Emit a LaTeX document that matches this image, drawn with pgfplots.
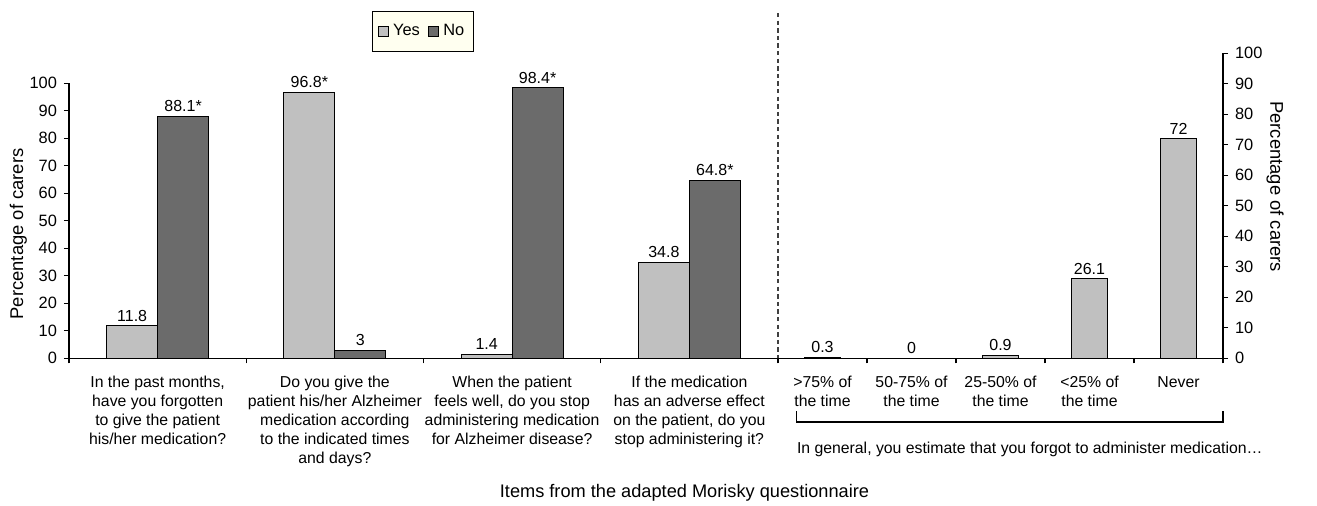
\documentclass[border=0pt]{standalone}
\usepackage{pgfplots}
\pgfplotsset{compat=1.18}
\usepackage{pgfplotstable}
\usepackage{fontspec}
\setmainfont{Liberation Sans}

\definecolor{yescol}{HTML}{C0C0C0}
\definecolor{nocol}{HTML}{6B6B6B}
\definecolor{legbg}{HTML}{FFFFF0}

% adherence items (Yes / No)
\pgfplotstableread{
x yes yeslab no nolab
0 11.8 11.8 88.1 88.1*
1 96.8 96.8* 3 3
2 1.4 1.4 98.4 98.4*
3 34.8 34.8 64.8 64.8*
}\items

% how often medication is forgotten
\pgfplotstableread{
x val lab
0 0.3 0.3
1 0 0
2 0.9 0.9
3 26.1 26.1
4 72 72
}\freq

\pgfplotsset{
  base/.style={
    scale only axis,
    ymin=0, ymax=100, ytick={0,10,...,100},
    axis x line*=bottom,
    tick align=outside,
    major tick length=2.5pt, minor tick length=2.5pt,
    tick style={black, line width=0.6pt},
    axis line style={line width=0.6pt},
    major x tick style={draw=none},
    yticklabel style={font=\fontsize{8.2}{9.8}\selectfont},
    xticklabel style={font=\fontsize{7.9}{9.5}\selectfont, align=center, anchor=north, yshift=-3pt},
    /pgf/number format/assume math mode=true,
    nodes near coords,
    point meta=explicit symbolic,
    nodes near coords style={font=\fontsize{8}{9.6}\selectfont, inner sep=2pt},
  }
}

\begin{document}
\begin{tikzpicture}
\path[use as bounding box] (0,0) rectangle (658.5pt,252.5pt);

\begin{axis}[base,
  at={(34.5pt,73.35pt)}, anchor=south west,
  width=354.5pt, height=137.5pt,
  xmin=-0.5, xmax=3.5,
  axis y line*=left,
  ybar=0pt, bar width=25.5pt,
  xtick={0,1,2,3},
  minor xtick={-0.5,0.5,1.5,2.5,3.5},
  xticklabels={
    {In the past months,\\have you forgotten\\to give the patient\\his/her medication?},
    {Do you give the\\patient his/her Alzheimer\\medication according\\to the indicated times\\and days?},
    {When the patient\\feels well, do you stop\\administering medication\\for Alzheimer disease?},
    {If the medication\\has an adverse effect\\on the patient, do you\\stop administering it?}},
  legend image code/.code={\draw[#1,draw=black] (0pt,-2.6pt) rectangle (5.2pt,2.6pt);},
  legend style={at={(0.4993,1.188)}, anchor=center, fill=legbg, draw=black,
    font=\fontsize{8.2}{9.8}\selectfont, legend columns=2,
    inner xsep=2.5pt, inner ysep=4.5pt,
    /tikz/every even column/.style={column sep=2pt}},
]
\addplot[fill=yescol, draw=black, line width=0.5pt] table[x=x, y=yes, meta=yeslab]{\items};
\addplot[fill=nocol, draw=black, line width=0.5pt] table[x=x, y=no, meta=nolab]{\items};
\legend{Yes,No}
\end{axis}

\begin{axis}[base,
  at={(389pt,73.35pt)}, anchor=south west,
  width=222.5pt, height=152.5pt,
  xmin=-0.5, xmax=4.5,
  axis y line*=right,
  ybar, bar width=18.35pt,
  xtick={0,1,2,3,4},
  minor xtick={0.5,1.5,2.5,3.5,4.5},
  xticklabels={{>75\% of\\the time},{50-75\% of\\the time},{25-50\% of\\the time},{<25\% of\\the time},{Never\\\strut}},
]
\addplot[fill=yescol, draw=black, line width=0.5pt] table[x=x, y=val, meta=lab]{\freq};
\end{axis}

% separator, bracket and titles
\draw[black!75, line width=0.6pt, dash pattern=on 2.2pt off 1.6pt] (389pt,246pt) -- (389pt,73.35pt);
\draw[black, line width=0.6pt] (398.3pt,47pt) -- (398.3pt,41.5pt) -- (611.5pt,41.5pt) -- (611.5pt,47pt);
\node[anchor=west, inner sep=0pt, font=\fontsize{7.9}{9.5}\selectfont] at (398.3pt,28pt)
  {In general, you estimate that you forgot to administer medication…};
\node[font=\fontsize{9.1}{11}\selectfont, inner sep=0pt] at (342.25pt,6pt)
  {Items from the adapted Morisky questionnaire};
\node[rotate=90, font=\fontsize{9.2}{11}\selectfont, inner sep=0pt] at (9.15pt,135.5pt)
  {Percentage of carers};
\node[rotate=-90, font=\fontsize{9.2}{11}\selectfont, inner sep=0pt] at (637.5pt,159.15pt)
  {Percentage of carers};
\end{tikzpicture}
\end{document}
